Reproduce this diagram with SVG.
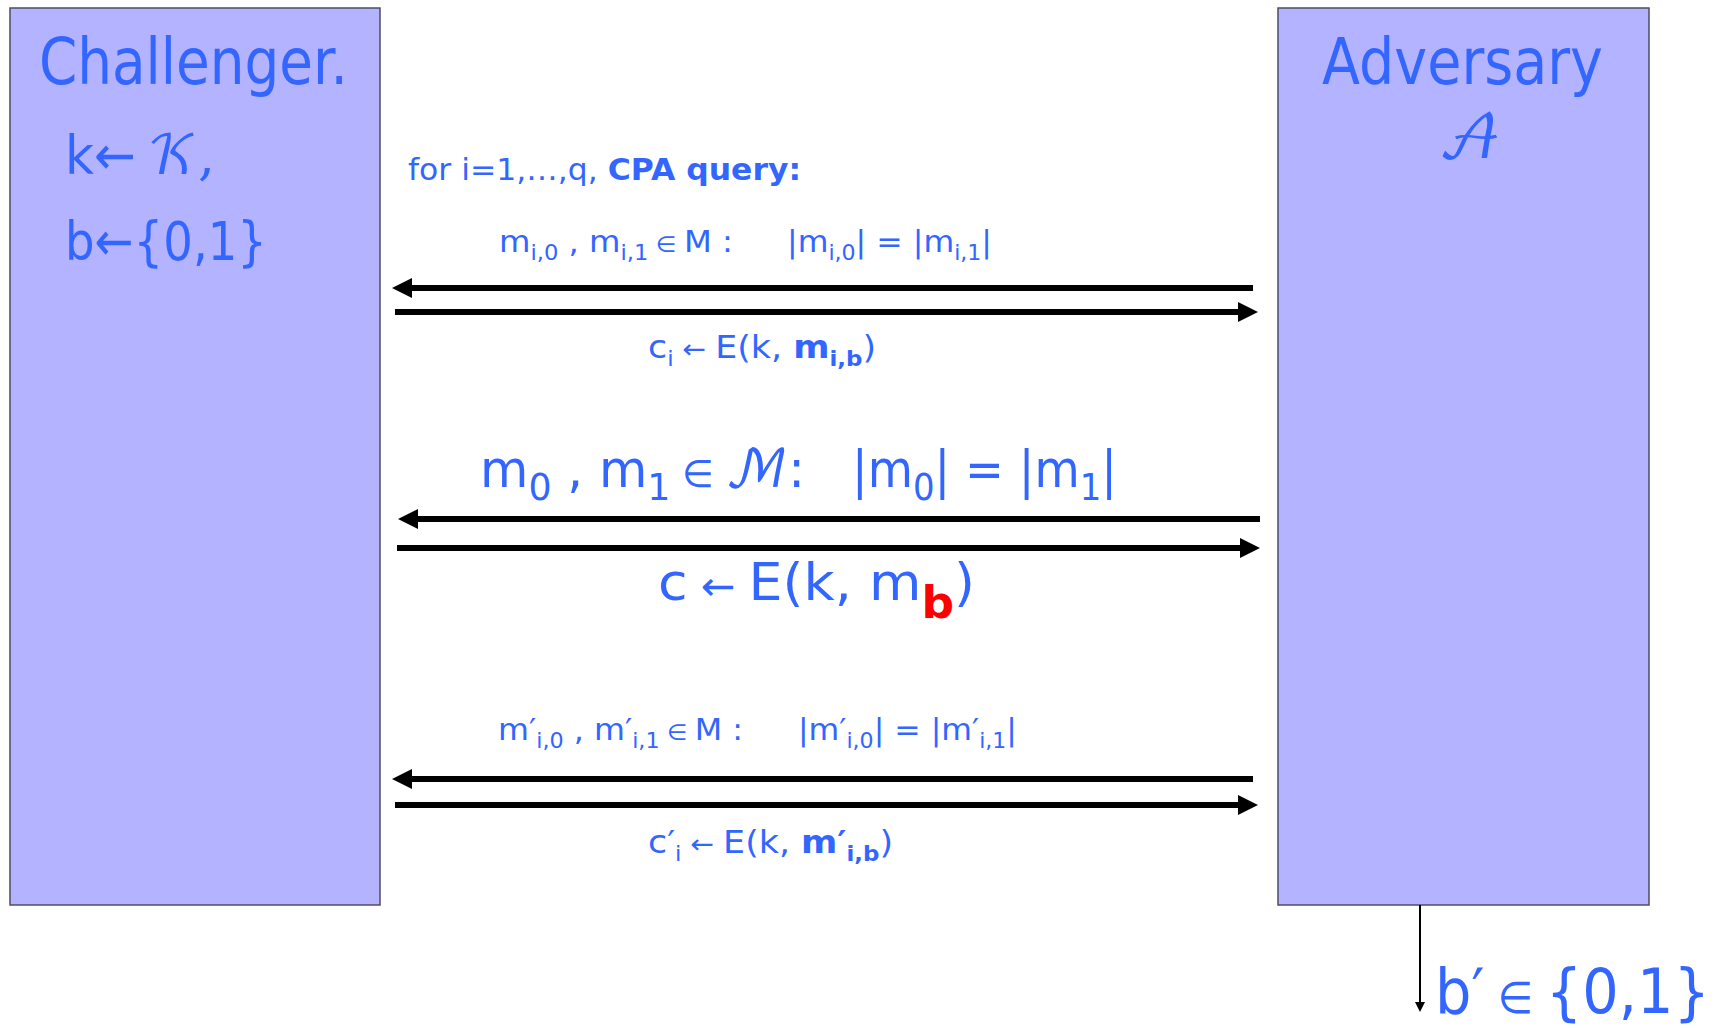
<svg xmlns="http://www.w3.org/2000/svg" width="1728" height="1028" viewBox="0 0 1728 1028">
<defs>
<style>
.box{fill:#B3B3FF;stroke:#4D4D66;stroke-width:1.5}
text{font-family:"DejaVu Sans","Liberation Sans",sans-serif;fill:#3366FF}
.scr{font-family:"DejaVu Math TeX Gyre","DejaVu Serif","DejaVu Sans",serif}
.b{font-weight:bold}
.msg{stroke:#000;stroke-width:6;fill:none;marker-end:url(#ah)}
.out{stroke:#000;stroke-width:2;fill:none;marker-end:url(#ahs)}
</style>
<marker id="ah" markerUnits="userSpaceOnUse" markerWidth="20" markerHeight="20" refX="0" refY="10" orient="auto" viewBox="0 0 20 20"><path d="M0,0 L20,10 L0,20 z" fill="#000"/></marker>
<marker id="ahs" markerUnits="userSpaceOnUse" markerWidth="10" markerHeight="10" refX="0" refY="5" orient="auto" viewBox="0 0 10 10"><path d="M0,0 L10,5 L0,10 z" fill="#000"/></marker>
</defs>
<rect width="1728" height="1028" fill="#fff"/>
<g id="challenger">
<rect class="box" x="10" y="8" width="370" height="897"/>
<text x="39" y="84" font-size="64" textLength="309" lengthAdjust="spacingAndGlyphs">Challenger.</text>
<text x="65" y="174" font-size="54" textLength="71" lengthAdjust="spacingAndGlyphs">k←</text>
<text class="scr" x="147" y="174" font-size="54">𝒦,</text>
<text x="65" y="260" font-size="54" textLength="202" lengthAdjust="spacingAndGlyphs">b←{0,1}</text>
</g>
<g id="adversary">
<rect class="box" x="1278" y="8" width="371" height="897"/>
<text x="1322" y="84" font-size="64" textLength="281" lengthAdjust="spacingAndGlyphs">Adversary</text>
<text class="scr" x="1470" y="158" font-size="60" text-anchor="middle">𝒜</text>
</g>
<g id="connectors">
<path class="msg" d="M1253,288 L412,288"/>
<path class="msg" d="M395,312 L1238,312"/>
<path class="msg" d="M1260,519 L418,519"/>
<path class="msg" d="M397,548 L1240,548"/>
<path class="msg" d="M1253,779 L412,779"/>
<path class="msg" d="M395,805 L1238,805"/>
<path class="out" d="M1420,905 L1420,1002"/>
</g>
<g id="labels">
<text x="408" y="180" font-size="30" textLength="393" lengthAdjust="spacingAndGlyphs">for i=1,…,q, <tspan class="b">CPA query:</tspan></text>
<text x="499" y="252" font-size="30" textLength="234" lengthAdjust="spacingAndGlyphs">m<tspan dy="8" font-size="21">i,0</tspan><tspan dy="-8"> , m</tspan><tspan dy="8" font-size="21">i,1</tspan><tspan dy="-8" font-size="22"> ∈ </tspan>M :</text>
<text x="787" y="252" font-size="30" textLength="205" lengthAdjust="spacingAndGlyphs">|m<tspan dy="8" font-size="21">i,0</tspan><tspan dy="-8">| = |m</tspan><tspan dy="8" font-size="21">i,1</tspan><tspan dy="-8">|</tspan></text>
<text x="648" y="358" font-size="32" textLength="228" lengthAdjust="spacingAndGlyphs">c<tspan dy="8" font-size="21">i</tspan><tspan dy="-8" font-size="26"> ← </tspan>E(k, <tspan class="b">m</tspan><tspan class="b" dy="8" font-size="21">i,b</tspan><tspan dy="-8">)</tspan></text>
<text x="480" y="487" font-size="52" textLength="325" lengthAdjust="spacingAndGlyphs">m<tspan dy="13" font-size="38">0</tspan><tspan dy="-13"> , m</tspan><tspan dy="13" font-size="38">1</tspan><tspan dy="-13" font-size="38"> ∈ </tspan><tspan class="scr">ℳ</tspan>:</text>
<text x="852" y="487" font-size="52" textLength="265" lengthAdjust="spacingAndGlyphs">|m<tspan dy="13" font-size="38">0</tspan><tspan dy="-13">| = |m</tspan><tspan dy="13" font-size="38">1</tspan><tspan dy="-13">|</tspan></text>
<text x="658" y="600" font-size="52" textLength="317" lengthAdjust="spacingAndGlyphs">c<tspan font-size="40"> ← </tspan>E(k, m<tspan dy="18" font-size="44" font-weight="bold" style="fill:#FF0000">b</tspan><tspan dy="-18">)</tspan></text>
<text x="498" y="740" font-size="30" textLength="245" lengthAdjust="spacingAndGlyphs">m′<tspan dy="8" font-size="21">i,0</tspan><tspan dy="-8"> , m′</tspan><tspan dy="8" font-size="21">i,1</tspan><tspan dy="-8" font-size="22"> ∈ </tspan>M :</text>
<text x="798" y="740" font-size="30" textLength="219" lengthAdjust="spacingAndGlyphs">|m′<tspan dy="8" font-size="21">i,0</tspan><tspan dy="-8">| = |m′</tspan><tspan dy="8" font-size="21">i,1</tspan><tspan dy="-8">|</tspan></text>
<text x="648" y="853" font-size="32" textLength="245" lengthAdjust="spacingAndGlyphs">c′<tspan dy="8" font-size="21">i</tspan><tspan dy="-8" font-size="26"> ← </tspan>E(k, <tspan class="b">m′</tspan><tspan class="b" dy="8" font-size="21">i,b</tspan><tspan dy="-8">)</tspan></text>
</g>
<g id="output">
<text x="1435" y="1013" font-size="62" textLength="275" lengthAdjust="spacingAndGlyphs">b′<tspan font-size="44"> ∈ </tspan>{0,1}</text>
</g>
</svg>
